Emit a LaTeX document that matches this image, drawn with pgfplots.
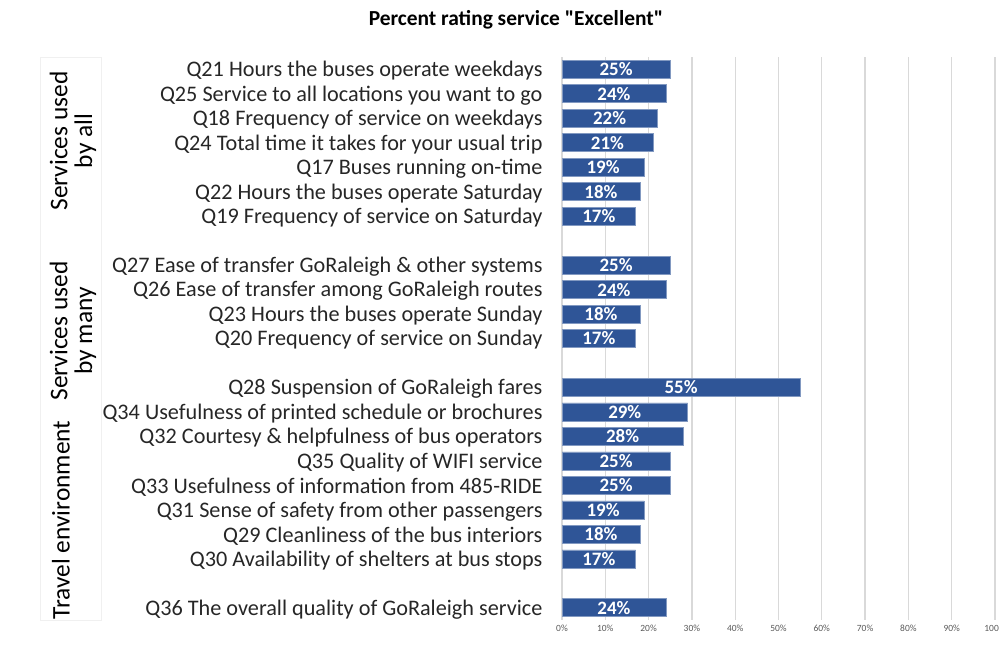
\documentclass[border=0pt]{standalone}
\usepackage{fontspec}
\setmainfont{Carlito}[Ligatures=TeXOff]
\usepackage{pgfplots}
\pgfplotsset{compat=1.18}
\definecolor{barblue}{HTML}{2F5597}
\definecolor{gridgray}{HTML}{D9D9D9}
\definecolor{ticktext}{HTML}{595959}

\begin{document}
\begin{tikzpicture}
\useasboundingbox (0,0) rectangle (999bp,-647bp);
\draw[black!6] (40bp,-57bp) rectangle (101bp,-620bp);
\node[font=\bfseries\fontsize{21.5}{24}\selectfont] at (516bp,-20bp) {Percent rating service "Excellent"};
\node[rotate=90, align=center, font=\fontsize{25.5}{25}\selectfont] at (73bp,-141bp) {Services used\\by all};
\node[rotate=90, align=center, font=\fontsize{25.5}{25}\selectfont] at (73bp,-331bp) {Services used\\by many};
\node[rotate=90, font=\fontsize{25.5}{25}\selectfont] at (61bp,-520bp) {Travel environment};
\begin{axis}[
  at={(562bp,-57bp)}, anchor=north west,
  scale only axis, width=433bp, height=563bp,
  xmin=0, xmax=100, ymin=-0.5, ymax=22.5, y dir=reverse,
  axis line style={draw=none},
  xtick={0,10,...,100}, xticklabel={\pgfmathprintnumber{\tick}\%},
  xticklabel style={font=\fontsize{9.5}{11}\selectfont, text=ticktext, yshift=-2bp},
  /pgf/number format/assume math mode=true,
  ytick={0,...,22},
  yticklabels={Q21 Hours the buses operate weekdays, Q25 Service to all locations you want to go, Q18 Frequency of service on weekdays, Q24 Total time it takes for your usual trip, Q17 Buses running on-time, Q22 Hours the buses operate Saturday, Q19 Frequency of service on Saturday, {}, Q27 Ease of transfer GoRaleigh \& other systems, Q26 Ease of transfer among GoRaleigh routes, Q23 Hours the buses operate Sunday, Q20 Frequency of service on Sunday, {}, Q28 Suspension of GoRaleigh fares, Q34 Usefulness of printed schedule or brochures, Q32 Courtesy \& helpfulness of bus operators, Q35 Quality of WIFI service, Q33 Usefulness of information from 485-RIDE, Q31 Sense of safety from other passengers, Q29 Cleanliness of the bus interiors, Q30 Availability of shelters at bus stops, {}, Q36 The overall quality of GoRaleigh service},
  yticklabel style={font=\fontsize{22.3}{24}\selectfont, text=black!85, xshift=-16bp, yshift=-1.5bp},
  major tick length=0pt,
  xmajorgrids, grid style={gridgray, line width=1.3bp},
  clip=false,
]
\addplot[xbar, bar width=18bp, fill=barblue, draw=barblue!60!white, line width=0.6bp] table[x=v, y=y] {
y v
0 25
1 24
2 22
3 21
4 19
5 18
6 17
8 25
9 24
10 18
11 17
13 55
14 29
15 28
16 25
17 25
18 19
19 18
20 17
22 24
};
\addplot[draw=none, mark=none, nodes near coords={\pgfmathprintnumber{\pgfplotspointmeta}\%}, point meta=explicit,
  every node near coord/.style={anchor=center, text=white, font=\bfseries\fontsize{19}{21}\selectfont}]
  table[x expr=\thisrow{v}/2, y=y, meta=v] {
y v
0 25
1 24
2 22
3 21
4 19
5 18
6 17
8 25
9 24
10 18
11 17
13 55
14 29
15 28
16 25
17 25
18 19
19 18
20 17
22 24
};
\end{axis}
\end{tikzpicture}
\end{document}
